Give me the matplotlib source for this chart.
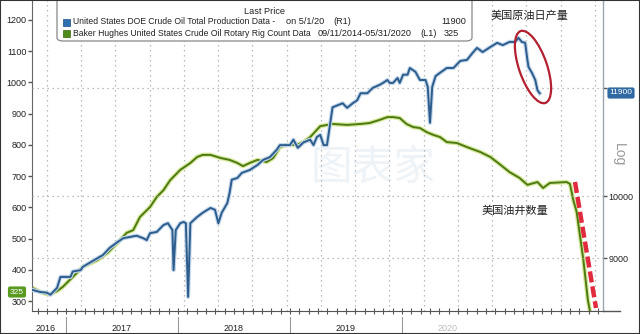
import matplotlib
matplotlib.use("Agg")
import matplotlib.pyplot as plt
import matplotlib.patheffects as pe
from matplotlib.patches import Ellipse, FancyBboxPatch, Rectangle
from matplotlib.lines import Line2D
from matplotlib.ticker import FixedLocator, NullLocator
import numpy as np

plt.rcParams['font.family'] = ['Liberation Sans', 'Noto Sans CJK SC', 'DejaVu Sans']

# time position on the chart (decimal years)
prod_t = [2016.70, 2016.77, 2016.83, 2016.86, 2016.92, 2016.95, 2017.04, 2017.06, 2017.13, 2017.15,
          2017.21, 2017.28, 2017.33, 2017.39, 2017.46, 2017.51, 2017.57, 2017.63, 2017.69, 2017.72,
          2017.75, 2017.81, 2017.87, 2017.91, 2017.95, 2017.96, 2017.98, 2018.02, 2018.05, 2018.07,
          2018.09, 2018.11, 2018.17, 2018.22, 2018.29, 2018.33, 2018.36, 2018.39, 2018.44, 2018.46,
          2018.48, 2018.53, 2018.57, 2018.64, 2018.71, 2018.76, 2018.82, 2018.88, 2018.91, 2019.00,
          2019.03, 2019.07, 2019.12, 2019.18, 2019.21, 2019.24, 2019.27, 2019.30, 2019.33, 2019.38,
          2019.47, 2019.51, 2019.56, 2019.60, 2019.63, 2019.69, 2019.74, 2019.80, 2019.83, 2019.87,
          2019.89, 2019.92, 2019.96, 2019.98, 2020.01, 2020.05, 2020.07, 2020.12, 2020.16, 2020.21,
          2020.23, 2020.25, 2020.27, 2020.30, 2020.34, 2020.40, 2020.46, 2020.52, 2020.58, 2020.63,
          2020.67, 2020.72, 2020.79, 2020.85, 2020.90, 2020.96, 2021.01, 2021.04, 2021.07, 2021.10,
          2021.12, 2021.13, 2021.16, 2021.19, 2021.21, 2021.23]
# US crude production (kb/d), right log axis
prod_kbd = [8530, 8500, 8490, 8460, 8560, 8720, 8720, 8800, 8820, 8870,
            8930, 9000, 9050, 9160, 9250, 9310, 9330, 9350, 9310, 9280,
            9390, 9410, 9520, 9550, 9440, 8820, 9440, 9550, 9570, 9550,
            8430, 9550, 9650, 9720, 9800, 9770, 9550, 9720, 9880, 10050,
            10280, 10310, 10400, 10450, 10540, 10630, 10680, 10810, 10900, 10900,
            11000, 10850, 10950, 11000, 10900, 11050, 11090, 10900, 10900, 11620,
            11700, 11610, 11700, 11760, 11900, 11900, 12010, 12070, 12110, 12170,
            12110, 12110, 12210, 12110, 12280, 12280, 12420, 12340, 12170, 12170,
            12030, 11320, 12030, 12250, 12320, 12420, 12420, 12570, 12590, 12740,
            12850, 12760, 12870, 12960, 12910, 12980, 12980, 13070, 12980, 12960,
            12590, 12440, 12320, 12170, 11960, 11900]

rig_t = [2016.70, 2016.77, 2016.83, 2016.86, 2016.92, 2016.97, 2017.06, 2017.15, 2017.28, 2017.37,
         2017.46, 2017.54, 2017.60, 2017.66, 2017.75, 2017.81, 2017.87, 2017.93, 2018.02, 2018.11,
         2018.17, 2018.22, 2018.29, 2018.38, 2018.46, 2018.53, 2018.58, 2018.64, 2018.71, 2018.79,
         2018.85, 2018.91, 2018.97, 2019.06, 2019.12, 2019.18, 2019.27, 2019.38, 2019.51, 2019.63,
         2019.71, 2019.80, 2019.87, 2019.92, 2019.98, 2020.04, 2020.10, 2020.16, 2020.22, 2020.28,
         2020.34, 2020.40, 2020.49, 2020.58, 2020.70, 2020.79, 2020.88, 2020.96, 2021.05, 2021.12,
         2021.21, 2021.26, 2021.32, 2021.47, 2021.50, 2021.53, 2021.56, 2021.62, 2021.66, 2021.68]
# Baker Hughes oil rig count, left axis
rig_count = [342, 329, 322, 322, 332, 345, 377, 409, 431, 454,
             486, 518, 527, 569, 601, 633, 655, 687, 720, 742,
             761, 768, 768, 758, 752, 742, 732, 742, 752, 745,
             758, 793, 800, 800, 809, 825, 860, 867, 864, 867,
             870, 880, 889, 889, 886, 867, 857, 854, 841, 832,
             825, 809, 806, 793, 777, 761, 736, 713, 694, 672,
             681, 662, 678, 681, 675, 623, 585, 431, 303, 265]

year_labels = ["2016", "2017", "2018", "2019", "2020"]
year_label_pos = [2016.82, 2017.5, 2018.5, 2019.5, 2020.41]
year_breaks = [2017, 2018, 2019, 2020]
left_ticks = [300, 400, 500, 600, 700, 800, 900, 1000, 1100, 1200]
right_ticks = [9000, 10000, 12000]
right_ticklabels = ["9000", "10000", ""]
last_prod = "11900"
last_rig = "325"

W, H = 640, 334


def fx(x):
    return x / W


def fy(y):
    return 1 - y / H


fig = plt.figure(figsize=(6.4, 3.34), dpi=100, facecolor="white")
ax = fig.add_axes([fx(32), fy(311), (603 - 32) / W, 311 / H])
ax2 = ax.twinx()
ax.patch.set_visible(False)
ax2.patch.set_visible(False)

blue = "#2c5d8c"
green = "#4e7a14"

# rig count (left)
ax.plot(rig_t, rig_count, color=green, lw=1.4, solid_joinstyle="round",
        path_effects=[pe.Stroke(linewidth=3.2, foreground="#d6e99c"), pe.Normal()])
ax.set_xlim(2016.696, 2021.795)
ax.set_ylim(268, 1264)
ax.set_yticks(left_ticks)
ax.tick_params(axis="y", labelsize=6.5, length=3, width=1, color="#555", pad=1, labelcolor="#222")

# vertical dotted grid
grid_x = 2016.83 + 0.3058 * np.arange(17)
ax.set_xticks(grid_x)
ax.set_xticklabels([])
ax.tick_params(axis="x", which="major", length=0)
months = np.arange(2016.75, 2021.8, 1 / 12)
ax.set_xticks(months, minor=True)
ax.tick_params(axis="x", which="minor", length=4, direction="inout", color="#555", width=0.8)
ax.grid(axis="x", color="#a8a8a8", linestyle=(0, (1, 3)), lw=0.9)

# production (right, log)
ax2.plot(prod_t, prod_kbd, color=blue, lw=1.4, solid_joinstyle="round",
         path_effects=[pe.Stroke(linewidth=3.0, foreground="#c3d6ea"), pe.Normal()])
ax2.set_yscale("log")
ax2.set_ylim(8231, 13935)
ax2.yaxis.set_major_locator(FixedLocator(right_ticks))
ax2.yaxis.set_minor_locator(NullLocator())
ax2.set_yticklabels(right_ticklabels)
ax2.tick_params(axis="y", labelsize=6.5, length=3, width=1, color="#555", pad=1, labelcolor="#222")
ax2.set_axisbelow(True)
ax2.grid(axis="y", color="#a8a8a8", linestyle=(0, (1, 3)), lw=0.9)

for a in (ax, ax2):
    a.spines["top"].set_visible(False)
ax.spines["left"].set_color("#666")
ax.spines["bottom"].set_color("#555")
ax2.spines["right"].set_color("#9aa6b4")
ax2.spines["left"].set_visible(False)
ax2.spines["bottom"].set_visible(False)

# bottom axis extension, year labels and separators
fig.add_artist(Line2D([fx(603), fx(620)], [fy(311), fy(311)], color="#555", lw=1))
for lab, pos in zip(year_labels, year_label_pos):
    c = "#bbbbbb" if lab == "2020" else "#222"
    ax.text(pos, -0.055, lab, transform=ax.get_xaxis_transform(), ha="center", va="center",
            fontsize=6.5, color=c)
for b in year_breaks:
    ax.plot([b, b], [-0.02, -0.08], transform=ax.get_xaxis_transform(), color="#999", lw=0.8,
            clip_on=False)

# watermark
fig.text(fx(373), fy(168), "图表家", fontsize=30, color="#eef3f8", ha="center", va="center",
         zorder=-1, family=["Noto Sans CJK SC"])

# legend box
fs = 6.2
fn = 6.6
fig.add_artist(FancyBboxPatch((fx(57), fy(41)), fx(472) - fx(57), fy(-4) - fy(41),
                              boxstyle="round,pad=0,rounding_size=0.01", transform=fig.transFigure,
                              fc="white", ec="#888", lw=0.9))
fig.text(fx(265), fy(12), "Last Price", fontsize=fn, ha="center", va="center", color="#222")
fig.add_artist(Rectangle((fx(63), fy(26)), 7 / W, 7 / H, transform=fig.transFigure, fc="#2f6fb3", ec="#1d4f80", lw=0.5))
fig.add_artist(Rectangle((fx(63), fy(37)), 7 / W, 7 / H, transform=fig.transFigure, fc="#4f8a1c", ec="#3a6a10", lw=0.5))
fig.text(fx(73), fy(22), "United States DOE Crude Oil Total Production Data -", fontsize=fs, va="center", color="#222")
fig.text(fx(286), fy(22), "on 5/1/20", fontsize=fn, va="center", color="#222")
fig.text(fx(333), fy(22), "(R1)", fontsize=fn, va="center", color="#222")
fig.text(fx(466), fy(22), last_prod, fontsize=fn, va="center", ha="right", color="#222")
fig.text(fx(73), fy(33), "Baker Hughes United States Crude Oil Rotary Rig Count Data",
         fontsize=fs, va="center", color="#222")
fig.text(fx(412), fy(33), "09/11/2014-05/31/2020", fontsize=fn, va="center", ha="right", color="#222")
fig.text(fx(420), fy(33), "(L1)", fontsize=fn, va="center", color="#222")
fig.text(fx(444), fy(33), last_rig, fontsize=fn, va="center", color="#222")

# last price tags
fig.text(fx(621), fy(93), last_prod, fontsize=6, color="white", ha="center", va="center",
         bbox=dict(boxstyle="round,pad=0.25", fc="#2f6aa3", ec="none"))
fig.text(fx(17), fy(292), last_rig, fontsize=6, color="white", ha="center", va="center",
         bbox=dict(boxstyle="round,pad=0.25", fc="#5a9a21", ec="none"))
fig.text(fx(619), fy(155), "Log", fontsize=10, color="#9a9a9a", rotation=270, ha="center", va="center")

# annotations
fig.text(fx(529), fy(16), "美国原油日产量", fontsize=8, color="#222", ha="center", va="center")
fig.text(fx(515), fy(211), "美国油井数量", fontsize=8, color="#222", ha="center", va="center")
fig.add_artist(Ellipse((5.33, 3.34 - 0.67), 0.28, 0.76, angle=19, transform=fig.dpi_scale_trans,
                       fill=False, ec="#b3202f", lw=1.6))
fig.add_artist(Line2D([fx(575), fx(596)], [fy(182), fy(308)], color="#e22a3e", lw=3.2,
                      linestyle=(0, (2.5, 0.9)), transform=fig.transFigure))

# outer frame
fig.add_artist(Rectangle((0, 0), 1, 1, transform=fig.transFigure, fill=False, ec="#333", lw=1.5))

fig.savefig("out.png", dpi=100)
